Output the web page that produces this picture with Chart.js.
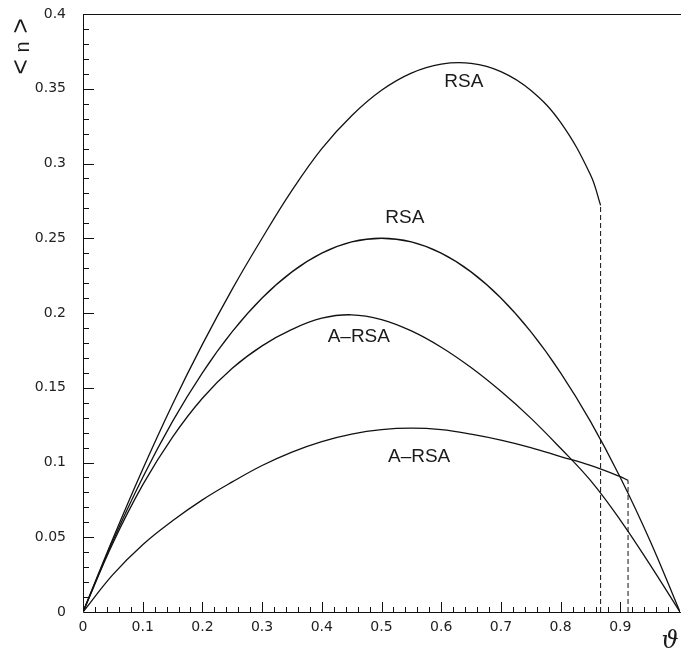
<!DOCTYPE html>
<html>
<head>
<meta charset="utf-8">
<script src="https://cdn.jsdelivr.net/npm/chart.js@4.4.1/dist/chart.umd.min.js"></script>
<style>
  html, body { margin: 0; padding: 0; background: #fff; }
  #wrap { width: 681px; height: 655px; }
</style>
</head>
<body>
<div id="wrap"><canvas id="chart" width="681" height="655"></canvas></div>
<script>
// --- valores ---
const thetaGrid = [0, 0.05, 0.1, 0.15, 0.2, 0.25, 0.3, 0.35, 0.4, 0.45, 0.5,
                   0.55, 0.6, 0.65, 0.7, 0.75, 0.8, 0.85, 0.9, 0.95, 1];

// RSA de cima (termina em ~0.867, linha tracejada ate o eixo)
const thetaRsaUpper = [0, 0.05, 0.1, 0.15, 0.2, 0.25, 0.3, 0.35, 0.4, 0.45, 0.5,
                       0.55, 0.6, 0.65, 0.7, 0.75, 0.8, 0.85, 0.867];
const nRsaUpper = [0, 0.049, 0.0955, 0.139, 0.179, 0.216, 0.25, 0.282, 0.31, 0.332, 0.349,
                   0.3605, 0.3665, 0.367, 0.3615, 0.349, 0.3275, 0.2925, 0.272];

// RSA (pico 0.25 em 0.5)
const nRsa = [0, 0.0475, 0.09, 0.1275, 0.16, 0.1875, 0.21, 0.2275, 0.24, 0.2475, 0.25,
              0.2475, 0.24, 0.2275, 0.21, 0.1875, 0.16, 0.1275, 0.09, 0.0475, 0];

// A-RSA de cima
const nArsaUpper = [0, 0.046, 0.085, 0.117, 0.143, 0.163, 0.178, 0.189, 0.1965, 0.1988, 0.1956,
                    0.188, 0.1771, 0.1635, 0.1476, 0.1297, 0.1095, 0.088, 0.0615, 0.0315, 0];

// A-RSA de baixo (termina em ~0.913)
const thetaArsaLower = [0, 0.05, 0.1, 0.15, 0.2, 0.25, 0.3, 0.35, 0.4, 0.45, 0.5,
                        0.55, 0.6, 0.65, 0.7, 0.75, 0.8, 0.85, 0.9, 0.913];
const nArsaLower = [0, 0.025, 0.045, 0.061, 0.075, 0.087, 0.098, 0.107, 0.114, 0.119, 0.122,
                    0.123, 0.122, 0.119, 0.115, 0.11, 0.104, 0.098, 0.0905, 0.088];

// rotulos das curvas (coordenadas em unidades dos dados)
const curveLabels = ['RSA', 'RSA', 'A\u2013RSA', 'A\u2013RSA'];
const labelTheta = [0.638, 0.539, 0.462, 0.563];
const labelN = [0.3545, 0.264, 0.184, 0.1037];

const xTicks = [0, 0.1, 0.2, 0.3, 0.4, 0.5, 0.6, 0.7, 0.8, 0.9];

// --- helpers ---
const toPts = (xs, ys) => xs.map((x, i) => ({ x: x, y: ys[i] }));
const lastOf = arr => arr[arr.length - 1];

function curve(xs, ys) {
    return {
        data: toPts(xs, ys),
        borderColor: '#111',
        borderWidth: 1.3,
        pointRadius: 0,
        fill: false,
        tension: 0.4
    };
}

function dropLine(xs, ys) {
    const x = lastOf(xs);
    return {
        data: [{ x: x, y: 0 }, { x: x, y: lastOf(ys) }],
        borderColor: '#111',
        borderWidth: 1,
        borderDash: [5, 3],
        pointRadius: 0,
        fill: false,
        tension: 0
    };
}

// marcas para dentro + moldura + textos
const decorPlugin = {
    id: 'decor',
    afterDraw(chart) {
        const ctx = chart.ctx;
        const xs = chart.scales.x, ys = chart.scales.y;
        const a = chart.chartArea;
        ctx.save();
        ctx.strokeStyle = '#111';
        ctx.lineWidth = 1;

        // moldura: esquerda, baixo, topo
        ctx.beginPath();
        ctx.moveTo(a.left + 0.5, a.top);
        ctx.lineTo(a.left + 0.5, a.bottom + 0.5);
        ctx.lineTo(a.right + 1, a.bottom + 0.5);
        ctx.moveTo(a.left, a.top + 0.5);
        ctx.lineTo(a.right + 1, a.top + 0.5);
        ctx.stroke();

        // ticks no eixo x (0.02 menores, 0.1 maiores)
        ctx.beginPath();
        for (let i = 1; i < 50; i++) {
            const px = Math.round(xs.getPixelForValue(i * 0.02)) + 0.5;
            const len = (i % 5 === 0) ? 10 : 5;
            ctx.moveTo(px, a.bottom);
            ctx.lineTo(px, a.bottom - len);
        }
        // ticks no eixo y (0.01 menores, 0.05 maiores)
        for (let j = 1; j < 40; j++) {
            const py = Math.round(ys.getPixelForValue(j * 0.01)) + 0.5;
            const len = (j % 5 === 0) ? 11 : 6;
            ctx.moveTo(a.left, py);
            ctx.lineTo(a.left + len, py);
        }
        ctx.stroke();

        // rotulos das curvas
        ctx.fillStyle = '#1a1a1a';
        ctx.font = '19px "Liberation Sans", Arial, sans-serif';
        ctx.textAlign = 'center';
        ctx.textBaseline = 'middle';
        curveLabels.forEach((t, k) => {
            ctx.fillText(t, xs.getPixelForValue(labelTheta[k]), ys.getPixelForValue(labelN[k]));
        });

        // titulo do eixo x
        ctx.font = 'italic 24px "DejaVu Serif", serif';
        ctx.fillText('\u03D1', 670, 642);

        // titulo do eixo y: <n> rodado
        ctx.translate(22, 47);
        ctx.rotate(-Math.PI / 2);
        ctx.font = '26px "Liberation Sans", Arial, sans-serif';
        ctx.fillText('<', -20, 0);
        ctx.fillText('>', 21, 0);
        ctx.font = '20px "Liberation Sans", Arial, sans-serif';
        ctx.fillText('n', 0, 1);
        ctx.restore();
    }
};

const tickFont = { family: '"DejaVu Sans", sans-serif', size: 14 };

new Chart(document.getElementById('chart'), {
    type: 'line',
    data: {
        datasets: [
            curve(thetaRsaUpper, nRsaUpper),
            curve(thetaGrid, nRsa),
            curve(thetaGrid, nArsaUpper),
            curve(thetaArsaLower, nArsaLower),
            dropLine(thetaRsaUpper, nRsaUpper),
            dropLine(thetaArsaLower, nArsaLower)
        ]
    },
    options: {
        responsive: false,
        animation: false,
        devicePixelRatio: 1,
        layout: { padding: { top: 14, right: 1, left: 0, bottom: 0 } },
        plugins: { legend: { display: false }, tooltip: { enabled: false } },
        scales: {
            x: {
                type: 'linear',
                min: 0,
                max: 1,
                grid: { display: false, drawTicks: false },
                border: { display: false },
                afterBuildTicks: s => { s.ticks = xTicks.map(v => ({ value: v })); },
                afterFit: s => { s.height = 43; s.paddingLeft = 0; s.paddingRight = 0; },
                ticks: {
                    padding: 7,
                    color: '#222',
                    font: tickFont,
                    maxRotation: 0,
                    autoSkip: false,
                    callback: v => String(+v.toFixed(2))
                }
            },
            y: {
                type: 'linear',
                min: 0,
                max: 0.4,
                grid: { display: false, drawTicks: false },
                border: { display: false },
                afterFit: s => { s.width = 83; s.paddingTop = 0; s.paddingBottom = 0; },
                ticks: {
                    stepSize: 0.05,
                    padding: 17,
                    color: '#222',
                    font: tickFont,
                    callback: v => String(+v.toFixed(2))
                }
            }
        }
    },
    plugins: [decorPlugin]
});
</script>
</body>
</html>
